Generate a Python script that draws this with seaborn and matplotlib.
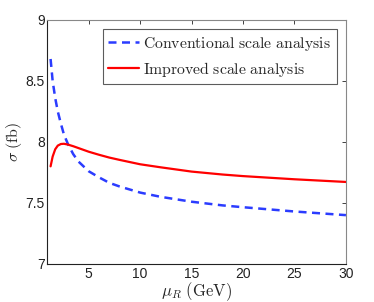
import matplotlib
matplotlib.use("Agg")
import matplotlib.pyplot as plt
import seaborn as sns
import pandas as pd

mu_conv = [1.3, 1.5, 1.75, 2.0, 2.3, 2.6, 3.0, 3.5, 4.0, 5.0, 6.0, 7.0, 8.0, 10.0, 12.0, 15.0, 18.0, 20.0, 25.0, 30.0]
sig_conv = [8.68, 8.50, 8.36, 8.25, 8.15, 8.06, 7.98, 7.90, 7.84, 7.76, 7.71, 7.665, 7.635, 7.585, 7.55, 7.51, 7.48, 7.465, 7.43, 7.40]

mu_imp = [1.3, 1.5, 1.75, 2.0, 2.3, 2.6, 3.0, 3.5, 4.0, 5.0, 6.0, 7.0, 8.0, 10.0, 12.0, 15.0, 18.0, 20.0, 25.0, 30.0]
sig_imp = [7.80, 7.88, 7.94, 7.97, 7.983, 7.985, 7.978, 7.965, 7.95, 7.92, 7.895, 7.872, 7.853, 7.817, 7.792, 7.757, 7.733, 7.72, 7.694, 7.672]

x_ticks = [5, 10, 15, 20, 25, 30]
y_ticks = [7, 7.5, 8, 8.5, 9]
y_tick_labels = ["7", "7.5", "8", "8.5", "9"]

sns.set_style("white")
plt.rcParams["font.family"] = ["Liberation Sans", "DejaVu Sans"]
plt.rcParams["mathtext.fontset"] = "cm"

fig = plt.figure(figsize=(3.74, 3.02), dpi=100)
ax = fig.add_axes([0.127, 0.126, 0.798, 0.808])

df_conv = pd.DataFrame({"mu": mu_conv, "sigma": sig_conv})
df_imp = pd.DataFrame({"mu": mu_imp, "sigma": sig_imp})

sns.lineplot(data=df_conv, x="mu", y="sigma", ax=ax, color="#2b3cff", lw=1.8,
             linestyle=(0, (3.2, 2.2)), label=r"$\mathrm{Conventional\ scale\ analysis}$")
sns.lineplot(data=df_imp, x="mu", y="sigma", ax=ax, color="#ff0000", lw=1.6,
             label=r"$\mathrm{Improved\ scale\ analysis}$")

ax.set_xlim(1, 30)
ax.set_ylim(7, 9)
ax.set_xticks(x_ticks)
ax.set_yticks(y_ticks)
ax.set_yticklabels(y_tick_labels)
ax.tick_params(axis="both", direction="in", length=3, width=0.6, labelsize=10,
               top=True, right=True, colors="#222222", pad=2)
ax.set_xlabel(r"$\mu_R\ (\mathrm{GeV})$", fontsize=12, labelpad=0)
ax.set_ylabel(r"$\sigma\ (\mathrm{fb})$", fontsize=11.5, labelpad=1)
for side in ["left", "bottom"]:
    ax.spines[side].set_color("#222222")
    ax.spines[side].set_linewidth(0.8)
for side in ["top", "right"]:
    ax.spines[side].set_color("#888888")
    ax.spines[side].set_linewidth(0.8)

leg = ax.legend(loc="upper right", fontsize=11.3, frameon=True, fancybox=False,
                handlelength=2.0, borderpad=0.35, labelspacing=0.45,
                handletextpad=0.25, borderaxespad=0.6)
leg.get_frame().set_edgecolor("#333333")
leg.get_frame().set_linewidth(0.8)

fig.savefig("out.png", dpi=100)
